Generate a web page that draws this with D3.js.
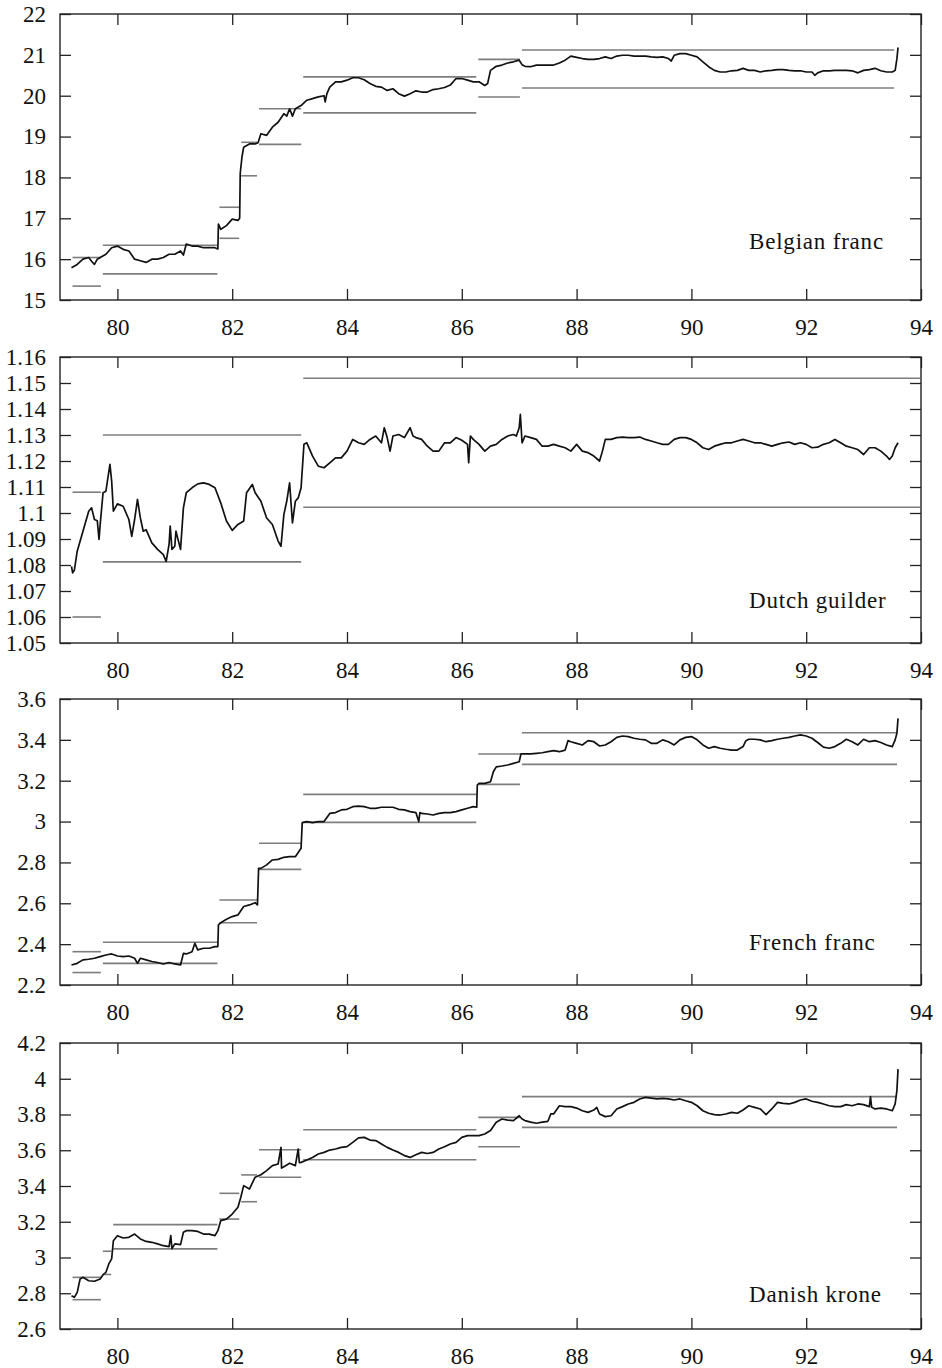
<!DOCTYPE html>
<html><head><meta charset="utf-8">
<script src="https://cdn.jsdelivr.net/npm/d3@7"></script>
<style>
body{margin:0;background:#fff}
svg{display:block}
</style>
</head><body>
<svg id="chart" width="942" height="1368"></svg>
<script>
// ---------- DATA ----------
const currencies = ["Belgian franc", "Dutch guilder", "French franc", "Danish krone"];
const xTickValues = [80, 82, 84, 86, 88, 90, 92, 94];
const yDomains = [[15, 22], [1.05, 1.16], [2.2, 3.6], [2.6, 4.2]];
const yTicksBF = [15, 16, 17, 18, 19, 20, 21, 22];
const yTicksDG = [1.05, 1.06, 1.07, 1.08, 1.09, 1.1, 1.11, 1.12, 1.13, 1.14, 1.15, 1.16];
const yTicksFF = [2.2, 2.4, 2.6, 2.8, 3, 3.2, 3.4, 3.6];
const yTicksDK = [2.6, 2.8, 3, 3.2, 3.4, 3.6, 3.8, 4, 4.2];

// bands: [start year, end year, lower, upper]
const bandsBF = [[79.2,79.73,15.34,16.04],[79.73,81.76,15.64,16.34],[81.76,82.14,16.51,17.27],[82.14,82.45,18.04,18.86],[82.45,83.22,18.81,19.68],[83.22,86.27,19.58,20.46],[86.27,87.03,19.97,20.89],[87.03,93.55,20.19,21.12]];
const bandsDG = [[79.2,79.73,1.060,1.108],[79.73,83.22,1.0812,1.1300],[83.22,94,1.1022,1.1518]];
const bandsFF = [[79.2,79.73,2.261,2.363],[79.73,81.76,2.306,2.409],[81.76,82.45,2.505,2.616],[82.45,83.22,2.766,2.894],[83.22,86.27,2.996,3.133],[86.27,87.03,3.182,3.331],[87.03,93.6,3.28,3.435]];
const bandsDK = [[79.2,79.73,2.764,2.889],[79.73,79.91,2.905,3.035],[79.91,81.76,3.048,3.184],[81.76,82.14,3.215,3.359],[82.14,82.45,3.312,3.462],[82.45,83.22,3.449,3.603],[83.22,86.27,3.547,3.715],[86.27,87.03,3.62,3.784],[87.03,93.6,3.728,3.9]];

// exchange rates: [year, rate]
const rateBF = [[79.2,15.79],[79.3,15.87],[79.4,16.0],[79.5,16.04],[79.55,15.95],[79.6,15.87],[79.65,16.0],[79.7,16.04],[79.8,16.12],[79.9,16.28],[80.0,16.32],[80.1,16.24],[80.2,16.2],[80.3,16.0],[80.4,15.96],[80.5,15.92],[80.6,16.0],[80.7,16.0],[80.8,16.04],[80.9,16.12],[81.0,16.12],[81.1,16.2],[81.15,16.1],[81.2,16.37],[81.3,16.32],[81.4,16.32],[81.5,16.28],[81.6,16.28],[81.7,16.28],[81.75,16.25],[81.76,16.86],[81.8,16.73],[81.9,16.82],[82.0,16.98],[82.1,16.95],[82.13,17.0],[82.14,18.1],[82.17,18.5],[82.2,18.74],[82.3,18.82],[82.4,18.82],[82.45,18.85],[82.5,19.07],[82.6,19.03],[82.7,19.23],[82.8,19.35],[82.9,19.56],[82.95,19.5],[83.0,19.68],[83.05,19.5],[83.1,19.68],[83.2,19.76],[83.3,19.89],[83.4,19.93],[83.5,19.97],[83.6,20.0],[83.62,19.85],[83.65,20.05],[83.7,20.21],[83.8,20.34],[83.9,20.34],[84.0,20.38],[84.1,20.44],[84.2,20.44],[84.3,20.39],[84.4,20.3],[84.5,20.23],[84.6,20.21],[84.7,20.13],[84.8,20.17],[84.9,20.05],[85.0,19.99],[85.1,20.05],[85.2,20.12],[85.3,20.09],[85.4,20.09],[85.5,20.15],[85.6,20.17],[85.7,20.2],[85.8,20.26],[85.9,20.42],[86.0,20.42],[86.1,20.38],[86.2,20.34],[86.3,20.34],[86.4,20.25],[86.45,20.3],[86.5,20.62],[86.6,20.72],[86.7,20.75],[86.8,20.8],[86.9,20.83],[87.0,20.87],[87.05,20.76],[87.1,20.72],[87.2,20.71],[87.3,20.75],[87.4,20.75],[87.5,20.75],[87.6,20.75],[87.7,20.8],[87.8,20.87],[87.9,20.97],[88.0,20.94],[88.1,20.91],[88.2,20.89],[88.3,20.89],[88.4,20.91],[88.5,20.95],[88.6,20.91],[88.7,20.97],[88.8,20.99],[88.9,20.99],[89.0,20.97],[89.1,20.97],[89.2,20.97],[89.3,20.95],[89.4,20.94],[89.5,20.95],[89.6,20.91],[89.65,20.85],[89.7,20.99],[89.8,21.03],[89.9,21.03],[90.0,20.99],[90.1,20.95],[90.2,20.83],[90.3,20.71],[90.4,20.62],[90.5,20.58],[90.6,20.58],[90.7,20.61],[90.8,20.62],[90.9,20.67],[91.0,20.62],[91.1,20.62],[91.2,20.58],[91.3,20.61],[91.4,20.62],[91.5,20.64],[91.6,20.64],[91.7,20.62],[91.8,20.61],[91.9,20.61],[92.0,20.58],[92.1,20.58],[92.15,20.5],[92.2,20.56],[92.3,20.61],[92.4,20.61],[92.5,20.62],[92.6,20.62],[92.7,20.62],[92.8,20.61],[92.9,20.56],[93.0,20.62],[93.1,20.64],[93.2,20.67],[93.3,20.61],[93.4,20.58],[93.5,20.58],[93.55,20.62],[93.58,20.9],[93.6,21.18]];

const rateDG = [[79.2,1.0795],[79.22,1.077],[79.25,1.078],[79.3,1.0853],[79.4,1.093],[79.5,1.1007],[79.55,1.102],[79.6,1.0975],[79.65,1.097],[79.68,1.0898],[79.7,1.0956],[79.75,1.1078],[79.8,1.1084],[79.87,1.1187],[79.9,1.1123],[79.93,1.1007],[80.0,1.1035],[80.1,1.1026],[80.2,1.0975],[80.25,1.091],[80.3,1.0975],[80.35,1.1052],[80.4,1.0981],[80.45,1.093],[80.5,1.0936],[80.6,1.0885],[80.7,1.086],[80.8,1.084],[80.85,1.0814],[80.9,1.0879],[80.92,1.095],[80.95,1.086],[81.0,1.0872],[81.02,1.093],[81.1,1.086],[81.15,1.102],[81.2,1.1078],[81.3,1.1097],[81.4,1.1112],[81.5,1.1116],[81.6,1.111],[81.7,1.1097],[81.8,1.1039],[81.9,1.0969],[82.0,1.0933],[82.1,1.0956],[82.2,1.0969],[82.25,1.1078],[82.35,1.111],[82.4,1.1078],[82.5,1.1045],[82.6,1.0981],[82.7,1.0956],[82.8,1.0892],[82.85,1.0872],[82.9,1.0994],[82.95,1.1045],[83.0,1.1116],[83.05,1.0962],[83.1,1.1045],[83.15,1.1058],[83.2,1.1097],[83.25,1.1264],[83.3,1.127],[83.4,1.1219],[83.5,1.118],[83.6,1.1174],[83.7,1.1193],[83.8,1.1212],[83.9,1.1212],[84.0,1.1238],[84.1,1.1283],[84.2,1.127],[84.3,1.1264],[84.4,1.1283],[84.5,1.1296],[84.6,1.127],[84.65,1.1328],[84.7,1.129],[84.75,1.1238],[84.8,1.1296],[84.9,1.1302],[85.0,1.129],[85.1,1.1328],[85.15,1.1296],[85.2,1.129],[85.3,1.1283],[85.4,1.1257],[85.5,1.1238],[85.6,1.1238],[85.7,1.127],[85.8,1.127],[85.9,1.129],[86.0,1.128],[86.1,1.1264],[86.12,1.1193],[86.15,1.1296],[86.2,1.1283],[86.3,1.1264],[86.4,1.1238],[86.5,1.1257],[86.6,1.1264],[86.7,1.1283],[86.8,1.1296],[86.9,1.1302],[86.95,1.1296],[87.0,1.1328],[87.02,1.1379],[87.05,1.127],[87.1,1.1296],[87.2,1.129],[87.3,1.1283],[87.4,1.1257],[87.5,1.1257],[87.6,1.1264],[87.7,1.1257],[87.8,1.1251],[87.9,1.1238],[88.0,1.1264],[88.1,1.1238],[88.2,1.1232],[88.3,1.1219],[88.4,1.12],[88.45,1.1238],[88.5,1.1283],[88.6,1.1283],[88.7,1.129],[88.8,1.1292],[88.9,1.129],[89.0,1.129],[89.1,1.1292],[89.2,1.1283],[89.3,1.1277],[89.4,1.127],[89.5,1.1264],[89.6,1.1264],[89.7,1.1283],[89.8,1.129],[89.9,1.129],[90.0,1.1283],[90.1,1.127],[90.2,1.1251],[90.3,1.1244],[90.4,1.1257],[90.5,1.1264],[90.6,1.127],[90.7,1.127],[90.8,1.1277],[90.9,1.1283],[91.0,1.1277],[91.1,1.127],[91.2,1.127],[91.3,1.1264],[91.4,1.1257],[91.5,1.1264],[91.6,1.127],[91.7,1.1273],[91.8,1.1264],[91.9,1.127],[92.0,1.1264],[92.1,1.1251],[92.2,1.1253],[92.3,1.1264],[92.4,1.127],[92.5,1.1283],[92.6,1.127],[92.7,1.1257],[92.8,1.1251],[92.9,1.1244],[93.0,1.1225],[93.1,1.1251],[93.2,1.1251],[93.3,1.1238],[93.4,1.1219],[93.45,1.1206],[93.5,1.1219],[93.55,1.1251],[93.6,1.127]];

const rateFF = [[79.2,2.298],[79.3,2.306],[79.4,2.323],[79.5,2.326],[79.6,2.331],[79.7,2.339],[79.8,2.347],[79.9,2.352],[80.0,2.342],[80.1,2.339],[80.2,2.342],[80.3,2.331],[80.35,2.306],[80.4,2.331],[80.5,2.323],[80.6,2.315],[80.7,2.31],[80.8,2.303],[80.9,2.31],[81.0,2.303],[81.1,2.298],[81.15,2.355],[81.2,2.352],[81.3,2.363],[81.35,2.404],[81.4,2.372],[81.5,2.38],[81.6,2.38],[81.7,2.388],[81.75,2.388],[81.76,2.494],[81.8,2.505],[81.9,2.522],[82.0,2.535],[82.1,2.543],[82.2,2.584],[82.3,2.592],[82.4,2.603],[82.44,2.592],[82.46,2.771],[82.5,2.771],[82.6,2.788],[82.7,2.812],[82.8,2.815],[82.9,2.825],[83.0,2.828],[83.1,2.828],[83.2,2.869],[83.22,2.995],[83.3,3.0],[83.4,2.995],[83.5,3.0],[83.6,3.0],[83.7,3.04],[83.8,3.044],[83.9,3.057],[84.0,3.06],[84.1,3.073],[84.2,3.076],[84.3,3.073],[84.4,3.065],[84.5,3.065],[84.6,3.07],[84.7,3.07],[84.8,3.07],[84.9,3.06],[85.0,3.057],[85.1,3.049],[85.2,3.044],[85.25,3.0],[85.27,3.044],[85.3,3.04],[85.4,3.037],[85.5,3.032],[85.6,3.04],[85.7,3.044],[85.8,3.044],[85.9,3.049],[86.0,3.057],[86.1,3.065],[86.2,3.073],[86.26,3.07],[86.27,3.179],[86.3,3.187],[86.4,3.187],[86.5,3.195],[86.55,3.244],[86.6,3.268],[86.7,3.272],[86.8,3.277],[86.9,3.285],[87.0,3.293],[87.03,3.331],[87.1,3.331],[87.2,3.331],[87.3,3.334],[87.4,3.337],[87.5,3.342],[87.6,3.347],[87.7,3.342],[87.8,3.35],[87.85,3.396],[87.9,3.391],[88.0,3.383],[88.1,3.375],[88.2,3.396],[88.3,3.391],[88.4,3.37],[88.5,3.375],[88.6,3.391],[88.7,3.412],[88.8,3.419],[88.9,3.416],[89.0,3.408],[89.1,3.403],[89.2,3.4],[89.3,3.383],[89.4,3.383],[89.5,3.4],[89.6,3.391],[89.7,3.375],[89.8,3.4],[89.9,3.412],[90.0,3.416],[90.1,3.4],[90.2,3.375],[90.3,3.359],[90.4,3.367],[90.5,3.359],[90.6,3.354],[90.7,3.35],[90.8,3.35],[90.9,3.367],[90.95,3.396],[91.0,3.403],[91.1,3.403],[91.2,3.4],[91.3,3.391],[91.4,3.396],[91.5,3.403],[91.6,3.408],[91.7,3.412],[91.8,3.419],[91.9,3.424],[92.0,3.419],[92.1,3.408],[92.2,3.387],[92.3,3.364],[92.4,3.359],[92.5,3.367],[92.6,3.383],[92.7,3.403],[92.8,3.391],[92.9,3.375],[93.0,3.403],[93.1,3.391],[93.2,3.396],[93.3,3.387],[93.4,3.375],[93.5,3.367],[93.55,3.4],[93.58,3.432],[93.6,3.505]];

const rateDK = [[79.2,2.786],[79.25,2.777],[79.3,2.805],[79.35,2.88],[79.4,2.889],[79.5,2.87],[79.6,2.867],[79.7,2.88],[79.75,2.904],[79.8,2.917],[79.85,2.964],[79.9,2.992],[79.93,3.094],[80.0,3.122],[80.1,3.109],[80.2,3.113],[80.3,3.131],[80.4,3.104],[80.5,3.09],[80.6,3.085],[80.7,3.076],[80.8,3.066],[80.9,3.061],[80.93,3.122],[80.95,3.05],[81.0,3.076],[81.1,3.072],[81.15,3.141],[81.2,3.15],[81.3,3.15],[81.4,3.146],[81.5,3.131],[81.6,3.131],[81.7,3.122],[81.75,3.15],[81.8,3.206],[81.9,3.215],[82.0,3.243],[82.1,3.281],[82.15,3.337],[82.2,3.402],[82.3,3.383],[82.4,3.449],[82.5,3.463],[82.6,3.486],[82.7,3.514],[82.8,3.523],[82.85,3.616],[82.86,3.5],[82.9,3.508],[83.0,3.527],[83.1,3.514],[83.15,3.607],[83.17,3.53],[83.2,3.532],[83.3,3.545],[83.4,3.56],[83.5,3.579],[83.6,3.588],[83.7,3.601],[83.8,3.607],[83.9,3.616],[84.0,3.62],[84.1,3.644],[84.2,3.669],[84.3,3.672],[84.4,3.657],[84.5,3.654],[84.6,3.635],[84.7,3.616],[84.8,3.601],[84.9,3.588],[85.0,3.57],[85.1,3.56],[85.2,3.575],[85.3,3.588],[85.4,3.582],[85.5,3.588],[85.6,3.607],[85.7,3.62],[85.8,3.635],[85.9,3.644],[86.0,3.672],[86.1,3.682],[86.2,3.682],[86.3,3.682],[86.4,3.691],[86.5,3.71],[86.6,3.757],[86.7,3.775],[86.8,3.769],[86.9,3.766],[87.0,3.793],[87.05,3.775],[87.1,3.766],[87.2,3.757],[87.3,3.751],[87.4,3.757],[87.5,3.762],[87.55,3.803],[87.6,3.803],[87.7,3.849],[87.8,3.844],[87.9,3.844],[88.0,3.836],[88.1,3.821],[88.2,3.812],[88.3,3.825],[88.35,3.84],[88.4,3.803],[88.5,3.788],[88.6,3.793],[88.7,3.831],[88.8,3.844],[88.9,3.859],[89.0,3.868],[89.1,3.887],[89.2,3.896],[89.3,3.892],[89.4,3.887],[89.5,3.89],[89.6,3.887],[89.7,3.881],[89.8,3.887],[89.9,3.877],[90.0,3.868],[90.1,3.849],[90.2,3.821],[90.3,3.807],[90.4,3.799],[90.5,3.797],[90.6,3.803],[90.7,3.812],[90.8,3.807],[90.9,3.825],[91.0,3.849],[91.1,3.84],[91.2,3.831],[91.3,3.799],[91.4,3.831],[91.5,3.868],[91.6,3.862],[91.7,3.859],[91.8,3.868],[91.9,3.881],[92.0,3.887],[92.1,3.874],[92.2,3.868],[92.3,3.859],[92.4,3.849],[92.5,3.844],[92.6,3.844],[92.7,3.855],[92.8,3.849],[92.9,3.859],[93.0,3.855],[93.1,3.844],[93.12,3.9],[93.14,3.84],[93.2,3.831],[93.3,3.836],[93.4,3.831],[93.5,3.821],[93.55,3.859],[93.58,3.933],[93.6,4.054]];

// ---------- LAYOUT ----------
const FONT = '"Liberation Serif", "Times New Roman", Times, serif';
const panelTops = [14, 357, 699, 1043];
const panelH = 286;
const left = 60, right = 921;
const labelDy = [235, 251, 251, 259];
const tickLen = 11;

const series = [rateBF, rateDG, rateFF, rateDK];
const bands = [bandsBF, bandsDG, bandsFF, bandsDK];
const yTicks = [yTicksBF, yTicksDG, yTicksFF, yTicksDK];

const svg = d3.select("#chart");
const x = d3.scaleLinear().domain([79, 94]).range([left, right]);
const fmt = v => String(+v.toFixed(2));

currencies.forEach((name, i) => {
  const top = panelTops[i], bottom = top + panelH;
  const y = d3.scaleLinear().domain(yDomains[i]).range([bottom, top]);
  const g = svg.append("g");

  const clipId = "clip" + i;
  svg.append("clipPath").attr("id", clipId).append("rect")
    .attr("x", left).attr("y", top).attr("width", right - left).attr("height", panelH);

  const axStyle = sel => {
    sel.attr("font-family", FONT).attr("font-size", 23);
    sel.select(".domain").remove();
    sel.selectAll(".tick line").attr("stroke", "#222").attr("stroke-width", 1.3);
    sel.selectAll("text").attr("fill", "#111")
      .style("font-family", FONT).style("font-size", "23px");
  };

  // left axis (labels)
  g.append("g").attr("transform", `translate(${left},0)`)
    .call(d3.axisLeft(y).tickValues(yTicks[i]).tickFormat(fmt).tickSizeInner(-tickLen).tickSizeOuter(0).tickPadding(14))
    .call(axStyle);
  // right axis
  g.append("g").attr("transform", `translate(${right},0)`)
    .call(d3.axisRight(y).tickValues(yTicks[i]).tickFormat("").tickSizeInner(-tickLen).tickSizeOuter(0))
    .call(axStyle);
  // top axis
  g.append("g").attr("transform", `translate(0,${top})`)
    .call(d3.axisTop(x).tickValues(xTickValues).tickFormat("").tickSizeInner(-tickLen).tickSizeOuter(0))
    .call(axStyle);
  // bottom axis (labels)
  g.append("g").attr("transform", `translate(0,${bottom})`)
    .call(d3.axisBottom(x).tickValues(xTickValues).tickFormat(d3.format("d")).tickSizeInner(-tickLen).tickSizeOuter(0).tickPadding(19))
    .call(axStyle);

  // frame
  g.append("rect").attr("x", left).attr("y", top).attr("width", right - left).attr("height", panelH)
    .attr("fill", "none").attr("stroke", "#222").attr("stroke-width", 1.4);

  const plot = g.append("g").attr("clip-path", `url(#${clipId})`);

  // bands
  const segs = [];
  bands[i].forEach(b => { segs.push([b[0], b[1], b[2]]); segs.push([b[0], b[1], b[3]]); });
  plot.selectAll("line.band").data(segs).join("line")
    .attr("class", "band")
    .attr("x1", d => x(d[0]) + 1).attr("x2", d => x(d[1]) - 1)
    .attr("y1", d => y(d[2])).attr("y2", d => y(d[2]))
    .attr("stroke", "#7d7d7d").attr("stroke-width", 1.6);

  // rate line
  plot.append("path").datum(series[i])
    .attr("d", d3.line().x(d => x(d[0])).y(d => y(d[1])))
    .attr("fill", "none").attr("stroke", "#111").attr("stroke-width", 1.7)
    .attr("stroke-linejoin", "round");

  // label
  g.append("text").attr("x", 749).attr("y", top + labelDy[i])
    .style("font-family", FONT).style("font-size", "23px").style("letter-spacing", "0.8px")
    .attr("fill", "#111")
    .text(name);
});
</script>
</body></html>
